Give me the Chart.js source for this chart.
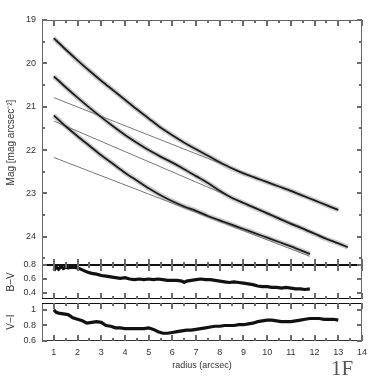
<!DOCTYPE html>
<html><head><meta charset="utf-8">
<script src="https://cdn.jsdelivr.net/npm/chart.js@4/dist/chart.umd.min.js"></script>
<style>
html,body{margin:0;padding:0;background:#fff;}
#wrap{position:relative;width:382px;height:382px;overflow:hidden;background:#fff;}
.c{position:absolute;left:0;width:382px;}
#tag{position:absolute;left:331px;top:357px;font-family:"Liberation Serif","DejaVu Serif",serif;font-size:21px;line-height:22px;color:#555;}
</style></head><body>
<div id="wrap">
<canvas id="c1" class="c" width="382" height="280" style="top:0"></canvas>
<canvas id="c2" class="c" width="382" height="60" style="top:250px"></canvas>
<canvas id="c3" class="c" width="382" height="92" style="top:290px"></canvas>
<div id="tag">1F</div>
</div>
<script>
// ---------- data ----------
const radiusA = [1.0,1.5,2.0,2.5,3.0,3.5,4.0,4.5,5.0,5.5,6.0,6.5,7.0,7.5,8.0,8.5,9.0,9.5,10.0,10.5,11.0,11.5,12.0,12.5,13.0];
const magA    = [19.42,19.68,19.93,20.17,20.40,20.62,20.84,21.06,21.27,21.48,21.66,21.83,21.98,22.13,22.28,22.42,22.54,22.64,22.74,22.84,22.94,23.05,23.16,23.27,23.38];
const radiusB = [1.0,1.5,2.0,2.5,3.0,3.5,4.0,4.5,5.0,5.5,6.0,6.5,7.0,7.5,8.0,8.5,9.0,9.5,10.0,10.5,11.0,11.5,12.0,12.5,13.0,13.4];
const magB    = [20.30,20.55,20.79,21.02,21.24,21.45,21.65,21.83,22.00,22.15,22.29,22.44,22.60,22.76,22.94,23.10,23.22,23.34,23.46,23.58,23.70,23.81,23.93,24.05,24.15,24.24];
const radiusC = [1.0,1.5,2.0,2.5,3.0,3.5,4.0,4.5,5.0,5.5,6.0,6.5,7.0,7.5,8.0,8.5,9.0,9.5,10.0,10.5,11.0,11.5,11.8];
const magC    = [21.20,21.45,21.68,21.90,22.12,22.32,22.52,22.70,22.88,23.04,23.18,23.30,23.40,23.52,23.62,23.72,23.82,23.92,24.02,24.12,24.22,24.33,24.40];
// exponential-disk fits (straight lines): end points
const fitRadius1 = [1.0,13.0];  const fitMag1 = [20.79,23.38];
const fitRadius2 = [1.0,13.4];  const fitMag2 = [21.33,24.24];
const fitRadius3 = [1.0,11.8];  const fitMag3 = [22.17,24.45];
// colour profiles
const radiusBV = [1.0,1.1,1.2,1.3,1.4,1.5,1.6,1.8,2.0,2.2,2.4,2.6,2.8,3.0,3.2,3.4,3.6,3.8,4.0,4.2,4.4,4.6,4.8,5.0,5.2,5.4,5.6,5.8,6.0,6.2,6.4,6.5,6.6,6.8,7.0,7.2,7.4,7.6,7.8,8.0,8.2,8.4,8.6,8.8,9.0,9.2,9.4,9.6,9.8,10.0,10.2,10.4,10.6,10.8,11.0,11.2,11.4,11.6,11.8];
const colorBV  = [0.72,0.77,0.74,0.78,0.75,0.77,0.76,0.77,0.76,0.73,0.70,0.68,0.67,0.65,0.64,0.63,0.62,0.61,0.62,0.60,0.59,0.60,0.59,0.60,0.59,0.60,0.59,0.58,0.58,0.58,0.57,0.55,0.57,0.58,0.59,0.60,0.59,0.59,0.58,0.57,0.56,0.55,0.56,0.55,0.54,0.53,0.52,0.50,0.49,0.49,0.48,0.48,0.47,0.48,0.47,0.46,0.46,0.45,0.46];
const radiusVI = [1.0,1.1,1.2,1.4,1.6,1.7,1.8,2.0,2.2,2.4,2.6,2.8,3.0,3.2,3.4,3.6,3.8,4.0,4.2,4.4,4.6,4.8,5.0,5.2,5.4,5.6,5.8,6.0,6.2,6.4,6.6,6.8,7.0,7.2,7.4,7.6,7.8,8.0,8.2,8.4,8.6,8.8,9.0,9.2,9.4,9.6,9.8,10.0,10.2,10.4,10.6,10.8,11.0,11.2,11.4,11.6,11.8,12.0,12.2,12.4,12.6,12.8,13.0];
const colorVI  = [1.00,0.97,0.96,0.95,0.94,0.92,0.90,0.88,0.86,0.83,0.84,0.85,0.84,0.80,0.79,0.77,0.77,0.76,0.76,0.76,0.76,0.76,0.77,0.75,0.72,0.70,0.70,0.71,0.72,0.73,0.74,0.74,0.75,0.76,0.77,0.78,0.79,0.79,0.80,0.80,0.80,0.81,0.81,0.82,0.83,0.85,0.86,0.87,0.87,0.86,0.85,0.85,0.85,0.86,0.87,0.88,0.89,0.89,0.89,0.88,0.88,0.88,0.87];
// ticks
const xMajorTicks = [1,2,3,4,5,6,7,8,9,10,11,12,13,14];
const xMinorTicks = [1.5,2.5,3.5,4.5,5.5,6.5,7.5,8.5,9.5,10.5,11.5,12.5,13.5];
const magTicks = [19,20,21,22,23,24];
const magMinorTicks = [19.5,20.5,21.5,22.5,23.5,24.5];
const bvTicks = [0.4,0.6,0.8];
const viTicks = [0.6,0.8,1];

// ---------- helpers ----------
const pts = (xs, ys) => xs.map((x, i) => ({x, y: ys[i]}));
const FONT = '"Liberation Sans", Arial, sans-serif';
const INK = '#333';
let frameCount = 0;

function makeFrame(cfg) {
  frameCount += 1;
  return {
    id: 'frame' + frameCount,
    afterDraw(chart) {
      const ctx = chart.ctx, a = chart.chartArea;
      const xs = chart.scales.x, ys = chart.scales.y;
      const L = Math.round(a.left), R = Math.round(a.right) - 1;
      const T = Math.round(a.top), B = Math.round(a.bottom) - 1;
      ctx.save();
      ctx.fillStyle = '#666';
      ctx.fillRect(L, T, 1, B - T + 1);
      ctx.fillRect(R, T, 1, B - T + 1);
      ctx.fillStyle = cfg.topColor;
      ctx.fillRect(L, T, R - L + 1, 1);
      ctx.fillStyle = cfg.bottomColor;
      ctx.fillRect(L, B, R - L + 1, 1);
      // inward tick marks
      ctx.fillStyle = '#6a6a6a';
      const xt = (list, len) => list.forEach(v => {
        const p = Math.round(xs.getPixelForValue(v));
        ctx.fillRect(p - 1, T, 2, len);
        ctx.fillRect(p - 1, B - len + 1, 2, len);
      });
      const yt = (list, len) => list.forEach(v => {
        const p = Math.round(ys.getPixelForValue(v));
        ctx.fillRect(L, p - 1, len, 2);
        ctx.fillRect(R - len + 1, p - 1, len, 2);
      });
      xt(xMajorTicks, cfg.xMajorLen);
      xt(xMinorTicks, cfg.xMinorLen);
      yt(cfg.yMajor, 5);
      yt(cfg.yMinor, 3);
      ctx.restore();
    }
  };
}

const yAxis = (min, max, ticks, title, reverse, fmt) => ({
  type: 'linear', position: 'left', min, max, reverse,
  afterBuildTicks: s => { s.ticks = ticks.map(v => ({value: v})); },
  afterFit: s => { s.width = 42; },
  grid: {display: false, drawTicks: false}, border: {display: false},
  ticks: {color: INK, padding: 6, font: {family: FONT, size: 9}, callback: fmt},
  title: {display: true, text: title, color: INK, padding: {top: 5, bottom: 0}, font: {family: FONT, size: 10}}
});
const xHidden = {type: 'linear', min: 0.5, max: 14, display: false};
const base = {responsive: false, animation: false, events: [],
  plugins: {legend: {display: false}, tooltip: {enabled: false}}};

// ---------- main surface brightness panel ----------
const halo = (xs, ys) => ({data: pts(xs, ys), borderColor: 'rgba(140,140,140,0.45)', borderWidth: 5, pointRadius: 0, tension: 0.3, order: 3});
const core = (xs, ys) => ({data: pts(xs, ys), borderColor: '#1c1c1c', borderWidth: 1.8, pointRadius: 0, tension: 0.3, order: 0});
const fit  = (xs, ys) => ({data: pts(xs, ys), borderColor: '#777', borderWidth: 1, pointRadius: 0, order: 1});
new Chart(document.getElementById('c1'), {
  type: 'line',
  data: {datasets: [
    halo(radiusA, magA), halo(radiusB, magB), halo(radiusC, magC),
    fit(fitRadius1, fitMag1), fit(fitRadius2, fitMag2), fit(fitRadius3, fitMag3),
    core(radiusA, magA), core(radiusB, magB), core(radiusC, magC)
  ]},
  options: Object.assign({}, base, {
    layout: {padding: {top: 20, bottom: 15, left: 0, right: 20}},
    scales: {x: xHidden, y: yAxis(19, 24.65, magTicks, 'Mag [mag arcsec⁻²]', true, v => String(v))}
  }),
  plugins: [makeFrame({yMajor: magTicks, yMinor: magMinorTicks, xMajorLen: 6, xMinorLen: 3,
      topColor: '#666', bottomColor: '#111'})]
});

// ---------- B-V panel ----------
new Chart(document.getElementById('c2'), {
  type: 'line',
  data: {datasets: [{data: pts(radiusBV, colorBV), borderColor: '#111', borderWidth: 3.2, pointRadius: 0, tension: 0}]},
  options: Object.assign({}, base, {
    layout: {padding: {top: 15, bottom: 7, left: 0, right: 20}},
    scales: {x: xHidden, y: yAxis(0.32, 0.8, bvTicks, 'B−V', false, v => v.toFixed(1))}
  }),
  plugins: [makeFrame({yMajor: bvTicks, yMinor: [], xMajorLen: 6, xMinorLen: 3,
      topColor: '#111', bottomColor: '#111'})]
});

// ---------- V-I panel ----------
new Chart(document.getElementById('c3'), {
  type: 'line',
  data: {datasets: [{data: pts(radiusVI, colorVI), borderColor: '#111', borderWidth: 3.2, pointRadius: 0, tension: 0}]},
  options: Object.assign({}, base, {
    layout: {padding: {top: 13, bottom: 0, left: 0, right: 20}},
    scales: {
      x: {type: 'linear', min: 0.5, max: 14,
        afterBuildTicks: s => { s.ticks = xMajorTicks.map(v => ({value: v})); },
        afterFit: s => { s.height = 41; },
        grid: {display: false, drawTicks: false}, border: {display: false},
        ticks: {color: INK, padding: 6, maxRotation: 0, autoSkip: false, font: {family: FONT, size: 9}},
        title: {display: true, text: 'radius (arcsec)', color: INK, padding: {top: 0, bottom: 11}, font: {family: FONT, size: 9}}},
      y: yAxis(0.6, 1.09, viTicks, 'V−I', false, v => (v === 1 ? '1' : v.toFixed(1)))
    }
  }),
  plugins: [makeFrame({yMajor: viTicks, yMinor: [], xMajorLen: 6, xMinorLen: 3,
      topColor: '#111', bottomColor: '#333'})]
});
</script>
</body></html>
